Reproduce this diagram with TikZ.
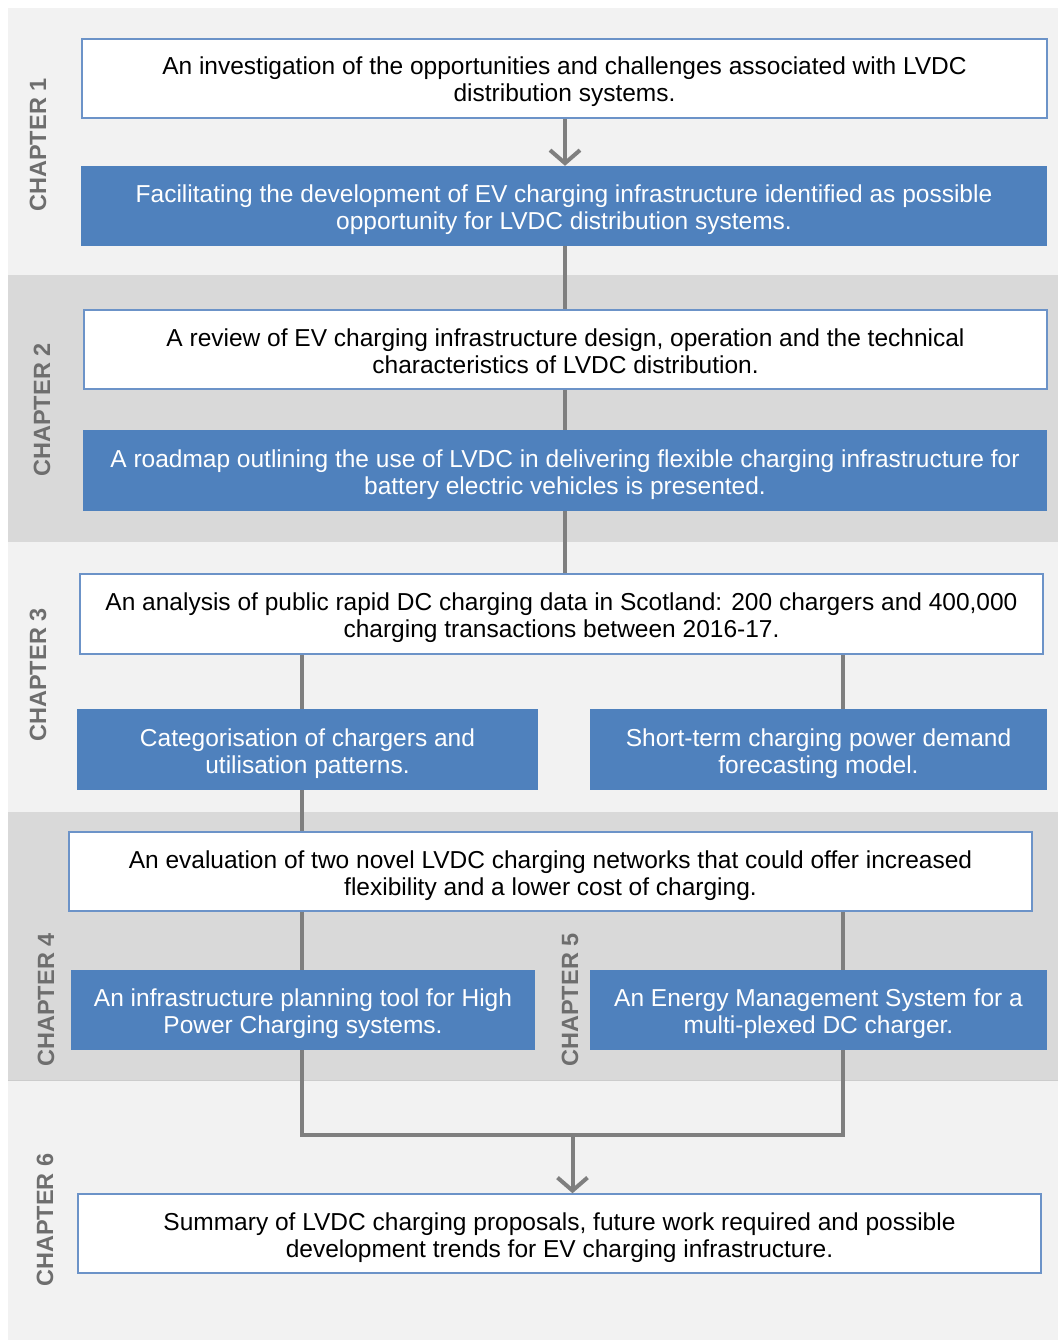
\documentclass[tikz,border=0pt]{standalone}
\usepackage{fontspec}
\setmainfont{Liberation Sans}
\usetikzlibrary{arrows.meta}
\definecolor{bandlight}{HTML}{F2F2F2}
\definecolor{banddark}{HTML}{D9D9D9}
\definecolor{boxblue}{HTML}{4F81BD}
\definecolor{boxedge}{HTML}{6C93C8}
\definecolor{linkgrey}{HTML}{7F7F7F}
\definecolor{chapgrey}{HTML}{6E6E6E}
\begin{document}
\begin{tikzpicture}[x=1pt,y=-1pt,line join=miter,
  wbox/.style={draw=boxedge,line width=1.5pt,fill=white,align=center,inner sep=0pt,
    text height=47pt,text depth=0pt,font=\fontsize{24.5}{27}\selectfont},
  bbox/.style={fill=boxblue,text=white,align=center,inner sep=0pt,
    text height=47pt,text depth=0pt,font=\fontsize{24.5}{27}\selectfont},
  link/.style={draw=linkgrey,line width=4pt},
  tip/.style={-{Straight Barb[length=13pt,width=30pt]}},
  chap/.style={rotate=90,text=chapgrey,font=\fontsize{23.5}{24}\selectfont\bfseries}]
  \useasboundingbox (0,0) rectangle (1058,1340);
  \fill[white] (0,0) rectangle (1058,1340);
  % chapter bands
  \fill[bandlight] (8,8) rectangle (1058,275);
  \fill[banddark] (8,275) rectangle (1058,542);
  \fill[bandlight] (8,542) rectangle (1058,812);
  \fill[banddark] (8,812) rectangle (1058,1080);
  \fill[bandlight] (8,1080) rectangle (1058,1340);
  \draw[line width=0.6pt,black!20] (8,1080) -- (1058,1080);
  \node[chap] (ch1) at (38,145) {CHAPTER 1};
  \node[chap] (ch2) at (42,410) {CHAPTER 2};
  \node[chap] (ch3) at (38,675) {CHAPTER 3};
  \node[chap] (ch4) at (46,1000) {CHAPTER 4};
  \node[chap] (ch5) at (570,1000) {CHAPTER 5};
  \node[chap] (ch6) at (45,1220) {CHAPTER 6};
  % boxes
  \node[wbox,minimum width=965pt,minimum height=79pt] (inv) at (564.5,78.5)
    {An investigation of the opportunities and challenges associated with LVDC\\distribution systems.};
  \node[bbox,minimum width=966pt,minimum height=80pt] (fac) at (564,206)
    {Facilitating the development of EV charging infrastructure identified as possible\\opportunity for LVDC distribution systems.};
  \node[wbox,minimum width=963pt,minimum height=79pt] (rev) at (565.5,349.5)
    {A review of EV charging infrastructure design, operation and the technical\\characteristics of LVDC distribution.};
  \node[bbox,minimum width=964pt,minimum height=81pt] (road) at (565,470.5)
    {A roadmap outlining the use of LVDC in delivering flexible charging infrastructure for\\battery electric vehicles is presented.};
  \node[wbox,minimum width=963pt,minimum height=80pt] (ana) at (561.5,614)
    {An analysis of public rapid DC charging data in Scotland: 200 chargers and 400,000\\charging transactions between 2016-17.};
  \node[bbox,minimum width=461pt,minimum height=81pt] (cat) at (307.5,749.5)
    {Categorisation of chargers and\\utilisation patterns.};
  \node[bbox,minimum width=457pt,minimum height=81pt] (fore) at (818.5,749.5)
    {Short-term charging power demand\\forecasting model.};
  \node[wbox,minimum width=963pt,minimum height=79pt] (eva) at (550.5,871.5)
    {An evaluation of two novel LVDC charging networks that could offer increased\\flexibility and a lower cost of charging.};
  \node[bbox,minimum width=464pt,minimum height=80pt] (plan) at (303,1010)
    {An infrastructure planning tool for High\\Power Charging systems.};
  \node[bbox,minimum width=457pt,minimum height=80pt] (ems) at (818.5,1010)
    {An Energy Management System for a\\multi-plexed DC charger.};
  \node[wbox,minimum width=963pt,minimum height=79pt] (summ) at (559.5,1233.5)
    {Summary of LVDC charging proposals, future work required and possible\\development trends for EV charging infrastructure.};
  % connectors
  \coordinate (mx) at (565,0);
  \coordinate (lx) at (302,0);
  \coordinate (rx) at (843,0);
  \coordinate (join) at (572.5,1135);
  \draw[link,tip] (inv.south -| mx) -- (fac.north -| mx);
  \draw[link] (fac.south -| mx) -- (rev.north -| mx);
  \draw[link] (rev.south -| mx) -- (road.north -| mx);
  \draw[link] (road.south -| mx) -- (ana.north -| mx);
  \draw[link] (ana.south -| lx) -- (cat.north -| lx);
  \draw[link] (ana.south -| rx) -- (fore.north -| rx);
  \draw[link] (cat.south -| lx) -- (eva.north -| lx);
  \draw[link] (eva.south -| lx) -- (plan.north -| lx);
  \draw[link] (eva.south -| rx) -- (ems.north -| rx);
  \draw[link] (plan.south -| lx) -- (lx |- join) -- (rx |- join) -- (ems.south -| rx);
  \draw[link,tip] (join) -- (summ.north -| join);
\end{tikzpicture}
\end{document}
